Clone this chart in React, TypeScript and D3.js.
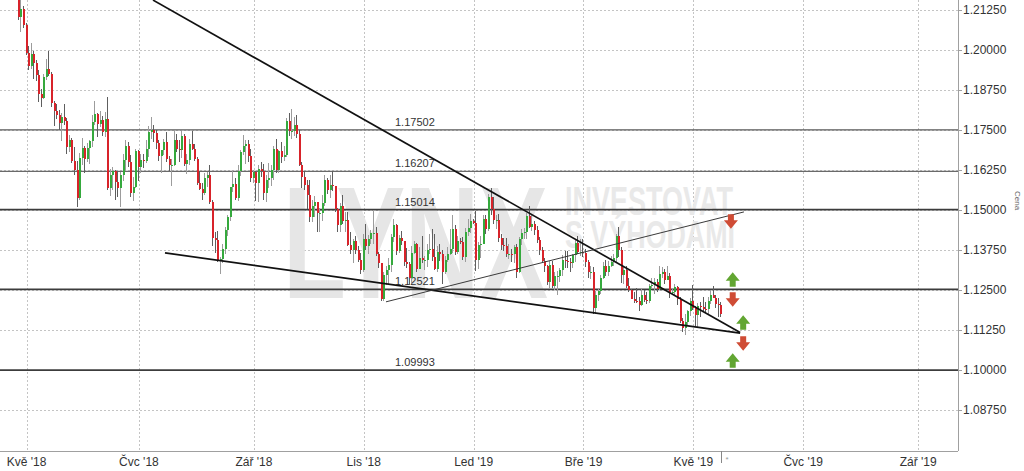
import React, { useEffect } from "react";
import * as d3 from "d3";

// ---------- data (EUR/USD daily, 26 Apr 2018 – 16 May 2019) ----------
const seedOpen = 1.2163;
const closes = [
  // Apr 18
  1.2103, 1.2129, 1.2079,
  // May 18
  1.1992, 1.1951, 1.1989, 1.1960, 1.1923, 1.1864, 1.1851, 1.1917, 1.1941, 1.1925, 1.1835, 1.1810, 1.1796, 1.1772, 1.1791, 1.1779, 1.1696, 1.1720, 1.1652, 1.1624, 1.1537, 1.1664, 1.1693,
  // Jun 18
  1.1658, 1.1694, 1.1717, 1.1776, 1.1799, 1.1770, 1.1781, 1.1745, 1.1784, 1.1569, 1.1609, 1.1623, 1.1587, 1.1570, 1.1608, 1.1655, 1.1701, 1.1649, 1.1554, 1.1571, 1.1684,
  // Jul 18
  1.1633, 1.1656, 1.1654, 1.1690, 1.1743, 1.1749, 1.1742, 1.1709, 1.1670, 1.1686, 1.1711, 1.1660, 1.1640, 1.1642, 1.1719, 1.1692, 1.1686, 1.1730, 1.1643, 1.1657, 1.1706, 1.1691,
  // Aug 18
  1.1660, 1.1585, 1.1566, 1.1553, 1.1600, 1.1610, 1.1525, 1.1411, 1.1406, 1.1344, 1.1346, 1.1378, 1.1438, 1.1479, 1.1571, 1.1582, 1.1536, 1.1622, 1.1680, 1.1701, 1.1706, 1.1670, 1.1601,
  // Sep 18
  1.1620, 1.1583, 1.1628, 1.1622, 1.1553, 1.1595, 1.1601, 1.1625, 1.1690, 1.1624, 1.1683, 1.1667, 1.1672, 1.1778, 1.1747, 1.1747, 1.1765, 1.1739, 1.1641, 1.1604,
  // Oct 18
  1.1578, 1.1547, 1.1478, 1.1513, 1.1524, 1.1491, 1.1491, 1.1522, 1.1593, 1.1561, 1.1579, 1.1576, 1.1502, 1.1452, 1.1512, 1.1465, 1.1470, 1.1391, 1.1375, 1.1402, 1.1374, 1.1345, 1.1311,
  // Nov 18
  1.1408, 1.1388, 1.1408, 1.1428, 1.1428, 1.1364, 1.1334, 1.1222, 1.1296, 1.1311, 1.1328, 1.1415, 1.1454, 1.1371, 1.1412, 1.1404, 1.1337, 1.1330, 1.1288, 1.1366, 1.1394, 1.1317,
  // Dec 18
  1.1351, 1.1343, 1.1343, 1.1375, 1.1379, 1.1353, 1.1317, 1.1370, 1.1361, 1.1305, 1.1345, 1.1362, 1.1379, 1.1440, 1.1370, 1.1404, 1.1400, 1.1354, 1.1432, 1.1443, 1.1466,
  // Jan 19
  1.1460, 1.1344, 1.1391, 1.1394, 1.1473, 1.1441, 1.1540, 1.1502, 1.1469, 1.1470, 1.1413, 1.1392, 1.1389, 1.1364, 1.1364, 1.1362, 1.1384, 1.1305, 1.1409, 1.1428, 1.1431, 1.1480, 1.1448,
  // Feb 19
  1.1456, 1.1437, 1.1405, 1.1374, 1.1341, 1.1326, 1.1275, 1.1327, 1.1263, 1.1295, 1.1295, 1.1311, 1.1343, 1.1340, 1.1337, 1.1334, 1.1358, 1.1397, 1.1370, 1.1370,
  // Mar 19
  1.1365, 1.1338, 1.1307, 1.1307, 1.1195, 1.1234, 1.1246, 1.1287, 1.1326, 1.1305, 1.1325, 1.1337, 1.1351, 1.1418, 1.1375, 1.1298, 1.1313, 1.1264, 1.1249, 1.1222, 1.1217,
  // Apr 19
  1.1215, 1.1203, 1.1234, 1.1220, 1.1217, 1.1262, 1.1265, 1.1276, 1.1254, 1.1300, 1.1305, 1.1282, 1.1295, 1.1245, 1.1245, 1.1258, 1.1223, 1.1153, 1.1131, 1.1150, 1.1185, 1.1215,
  // May 19
  1.1195, 1.1171, 1.1200, 1.1198, 1.1192, 1.1190, 1.1216, 1.1235, 1.1225, 1.1205, 1.1202, 1.1174,
];
const highs = [
  1.2188, 1.2155, 1.2136,
  1.2085, 1.2011, 1.2022, 1.1996, 1.1970, 1.1939, 1.1878, 1.1925, 1.1973, 1.1996, 1.1931, 1.1842, 1.1830, 1.1814, 1.1803, 1.1830, 1.1789, 1.1733, 1.1725, 1.1697, 1.1654, 1.1679, 1.1724,
  1.1701, 1.1710, 1.1719, 1.1796, 1.1840, 1.1803, 1.1809, 1.1795, 1.1805, 1.1852, 1.1629, 1.1634, 1.1626, 1.1623, 1.1618, 1.1675, 1.1719, 1.1712, 1.1671, 1.1604, 1.1692,
  1.1686, 1.1674, 1.1674, 1.1720, 1.1764, 1.1791, 1.1765, 1.1750, 1.1720, 1.1687, 1.1722, 1.1744, 1.1669, 1.1658, 1.1750, 1.1737, 1.1719, 1.1746, 1.1739, 1.1674, 1.1721, 1.1748,
  1.1706, 1.1667, 1.1621, 1.1584, 1.1617, 1.1620, 1.1642, 1.1531, 1.1431, 1.1433, 1.1354, 1.1395, 1.1446, 1.1485, 1.1573, 1.1623, 1.1601, 1.1641, 1.1688, 1.1733, 1.1718, 1.1720, 1.1690,
  1.1624, 1.1621, 1.1642, 1.1649, 1.1643, 1.1610, 1.1646, 1.1640, 1.1700, 1.1721, 1.1688, 1.1711, 1.1700, 1.1787, 1.1803, 1.1815, 1.1790, 1.1796, 1.1749, 1.1649,
  1.1621, 1.1595, 1.1595, 1.1530, 1.1543, 1.1516, 1.1505, 1.1548, 1.1608, 1.1600, 1.1609, 1.1621, 1.1570, 1.1507, 1.1522, 1.1548, 1.1494, 1.1495, 1.1432, 1.1408, 1.1419, 1.1388, 1.1366,
  1.1426, 1.1456, 1.1422, 1.1439, 1.1500, 1.1447, 1.1368, 1.1334, 1.1306, 1.1326, 1.1351, 1.1425, 1.1472, 1.1457, 1.1421, 1.1434, 1.1402, 1.1382, 1.1338, 1.1387, 1.1402, 1.1397,
  1.1384, 1.1420, 1.1357, 1.1394, 1.1424, 1.1442, 1.1426, 1.1387, 1.1394, 1.1375, 1.1357, 1.1384, 1.1440, 1.1485, 1.1453, 1.1420, 1.1411, 1.1416, 1.1445, 1.1473, 1.1486,
  1.1473, 1.1497, 1.1399, 1.1419, 1.1483, 1.1484, 1.1550, 1.1570, 1.1542, 1.1485, 1.1486, 1.1425, 1.1414, 1.1412, 1.1395, 1.1378, 1.1390, 1.1393, 1.1416, 1.1442, 1.1445, 1.1491, 1.1514,
  1.1489, 1.1466, 1.1449, 1.1416, 1.1384, 1.1349, 1.1329, 1.1341, 1.1340, 1.1306, 1.1310, 1.1320, 1.1358, 1.1371, 1.1372, 1.1351, 1.1363, 1.1406, 1.1419, 1.1408,
  1.1408, 1.1379, 1.1344, 1.1324, 1.1323, 1.1246, 1.1257, 1.1297, 1.1339, 1.1345, 1.1340, 1.1357, 1.1363, 1.1425, 1.1448, 1.1383, 1.1325, 1.1326, 1.1287, 1.1254, 1.1243,
  1.1255, 1.1228, 1.1255, 1.1249, 1.1245, 1.1270, 1.1288, 1.1287, 1.1284, 1.1324, 1.1323, 1.1316, 1.1324, 1.1303, 1.1252, 1.1268, 1.1263, 1.1229, 1.1162, 1.1174, 1.1189, 1.1225,
  1.1265, 1.1201, 1.1208, 1.1214, 1.1227, 1.1211, 1.1227, 1.1251, 1.1264, 1.1233, 1.1225, 1.1214,
];
const lows = [
  1.2095, 1.2055, 1.2070,
  1.1984, 1.1938, 1.1940, 1.1910, 1.1903, 1.1838, 1.1823, 1.1846, 1.1907, 1.1920, 1.1822, 1.1763, 1.1783, 1.1750, 1.1717, 1.1767, 1.1676, 1.1681, 1.1646, 1.1610, 1.1510, 1.1530, 1.1641,
  1.1617, 1.1651, 1.1644, 1.1697, 1.1765, 1.1728, 1.1760, 1.1730, 1.1727, 1.1563, 1.1543, 1.1564, 1.1530, 1.1541, 1.1508, 1.1592, 1.1621, 1.1633, 1.1540, 1.1527, 1.1569,
  1.1591, 1.1615, 1.1630, 1.1646, 1.1665, 1.1722, 1.1711, 1.1690, 1.1652, 1.1615, 1.1673, 1.1649, 1.1621, 1.1575, 1.1638, 1.1680, 1.1651, 1.1663, 1.1638, 1.1613, 1.1640, 1.1686,
  1.1652, 1.1578, 1.1562, 1.1530, 1.1547, 1.1571, 1.1520, 1.1387, 1.1365, 1.1336, 1.1301, 1.1334, 1.1362, 1.1419, 1.1465, 1.1557, 1.1530, 1.1527, 1.1607, 1.1671, 1.1643, 1.1649, 1.1587,
  1.1584, 1.1529, 1.1526, 1.1602, 1.1530, 1.1526, 1.1569, 1.1576, 1.1594, 1.1617, 1.1617, 1.1648, 1.1652, 1.1667, 1.1730, 1.1721, 1.1732, 1.1724, 1.1639, 1.1570,
  1.1564, 1.1504, 1.1464, 1.1464, 1.1477, 1.1431, 1.1432, 1.1467, 1.1511, 1.1550, 1.1537, 1.1558, 1.1493, 1.1432, 1.1432, 1.1456, 1.1432, 1.1386, 1.1363, 1.1335, 1.1364, 1.1339, 1.1301,
  1.1305, 1.1375, 1.1364, 1.1393, 1.1394, 1.1356, 1.1318, 1.1216, 1.1216, 1.1265, 1.1266, 1.1307, 1.1399, 1.1359, 1.1365, 1.1390, 1.1324, 1.1318, 1.1267, 1.1273, 1.1361, 1.1306,
  1.1322, 1.1334, 1.1312, 1.1321, 1.1363, 1.1340, 1.1313, 1.1307, 1.1341, 1.1269, 1.1300, 1.1337, 1.1358, 1.1367, 1.1360, 1.1364, 1.1393, 1.1345, 1.1338, 1.1420, 1.1427,
  1.1455, 1.1309, 1.1315, 1.1350, 1.1397, 1.1424, 1.1435, 1.1484, 1.1457, 1.1440, 1.1399, 1.1374, 1.1371, 1.1353, 1.1346, 1.1336, 1.1334, 1.1289, 1.1303, 1.1390, 1.1410, 1.1409, 1.1443,
  1.1434, 1.1422, 1.1396, 1.1359, 1.1338, 1.1306, 1.1266, 1.1257, 1.1255, 1.1249, 1.1234, 1.1276, 1.1294, 1.1320, 1.1320, 1.1307, 1.1318, 1.1337, 1.1361, 1.1357,
  1.1354, 1.1322, 1.1287, 1.1283, 1.1176, 1.1176, 1.1215, 1.1238, 1.1285, 1.1293, 1.1294, 1.1321, 1.1325, 1.1339, 1.1353, 1.1273, 1.1270, 1.1255, 1.1245, 1.1221, 1.1210,
  1.1209, 1.1184, 1.1199, 1.1211, 1.1207, 1.1210, 1.1255, 1.1236, 1.1245, 1.1251, 1.1289, 1.1268, 1.1282, 1.1226, 1.1235, 1.1235, 1.1204, 1.1148, 1.1118, 1.1110, 1.1141, 1.1168,
  1.1189, 1.1136, 1.1135, 1.1167, 1.1182, 1.1177, 1.1173, 1.1205, 1.1224, 1.1193, 1.1165, 1.1167,
];

const levels = [1.17502, 1.16207, 1.15014, 1.12521, 1.09993];
const yTicks = [1.0875, 1.1, 1.1125, 1.125, 1.1375, 1.15, 1.1625, 1.175, 1.1875, 1.2, 1.2125];
const monthNames = ["Led", "Úno", "Bře", "Dub", "Kvě", "Čvn", "Čvc", "Srp", "Zář", "Říj", "Lis", "Pro"];
const tickMonths = ["2018-05", "2018-07", "2018-09", "2018-11", "2019-01", "2019-03", "2019-05", "2019-07", "2019-09"];

// trend lines: [trading-day index from 1 May 2018, price]
const trendFrom = [[49.5, 1.2156], [54.2, 1.1366], [140.7, 1.1213]];
const trendTo = [[279.3, 1.1117], [279.3, 1.1115], [280.8, 1.1494]];

// signal arrows: index, price, direction
const arrowIdx = [275.7, 276.4, 276.4, 280.5, 280.5, 276.4];
const arrowPrice = [1.14641, 1.12828, 1.12203, 1.11484, 1.10828, 1.10297];
const arrowDir = ["down", "up", "down", "up", "down", "up"];

const FONT = "'Liberation Sans', Arial, sans-serif";

export default function App() {
  useEffect(() => {
    document.body.style.margin = "0";
  }, []);

  const weekdays = d3
    .timeDay.range(new Date(2018, 3, 26), new Date(2019, 9, 1))
    .filter((d) => d.getDay() !== 0 && d.getDay() !== 6);
  const base = weekdays.findIndex((d) => +d === +new Date(2018, 4, 1));

  const plotRight = 958;
  const plotBottom = 451;
  const x = d3.scaleLinear().domain([0, 100]).range([26.5, 26.5 + 255.5]);
  const y = d3.scaleLinear().domain([1.0875, 1.2125]).range([410, 10]);

  const candles = closes.map((c, i) => {
    const o = i === 0 ? seedOpen : closes[i - 1];
    return {
      idx: i - base,
      o,
      c,
      h: Math.max(highs[i], o, c),
      l: Math.min(lows[i], o, c),
    };
  });

  const monthTicks = tickMonths.map((s) => {
    const [yy, mm] = s.split("-").map(Number);
    const pos = weekdays.findIndex((d) => d.getFullYear() === yy && d.getMonth() === mm - 1);
    return { idx: pos - base, label: `${monthNames[mm - 1]} '${String(yy).slice(2)}` };
  });

  const fmt = d3.format(".5f");
  const levelStroke = ["#5a5a5a", "#6a6a6a", "#3c3c3c", "#3c3c3c", "#3c3c3c"];
  const levelWidth = [1.2, 1.2, 1.8, 1.8, 1.8];

  const arrowPath = (cx: number, cy: number, dir: string) => {
    const hw = 7, head = 8.5, sw = 3, stem = 6;
    const top = cy - (head + stem) / 2;
    if (dir === "up") {
      return `M${cx},${top} L${cx + hw},${top + head} L${cx + sw},${top + head} L${cx + sw},${top + head + stem} L${cx - sw},${top + head + stem} L${cx - sw},${top + head} L${cx - hw},${top + head} Z`;
    }
    const bot = top + head + stem;
    return `M${cx},${bot} L${cx + hw},${bot - head} L${cx + sw},${bot - head} L${cx + sw},${top} L${cx - sw},${top} L${cx - sw},${bot - head} L${cx - hw},${bot - head} Z`;
  };

  const lastIdx = candles[candles.length - 1].idx;

  return (
    <svg width={1024} height={471} style={{ display: "block", background: "#fff" }} fontFamily={FONT}>
      <defs>
        <clipPath id="plot">
          <rect x={0} y={0} width={plotRight} height={plotBottom} />
        </clipPath>
      </defs>

      {/* grid */}
      <g stroke="#c4c4c4" strokeWidth={1} strokeDasharray="2,2">
        {yTicks.map((t) => (
          <line key={t} x1={0} x2={plotRight} y1={Math.round(y(t)) + 0.5} y2={Math.round(y(t)) + 0.5} />
        ))}
        {monthTicks.map((m) => (
          <line key={m.label} x1={Math.round(x(m.idx)) + 0.5} x2={Math.round(x(m.idx)) + 0.5} y1={0} y2={plotBottom} />
        ))}
      </g>

      {/* watermark */}
      <g fill="#e6e6e6" fontWeight="bold">
        <text x={283} y={298} fontSize={160} textLength={265} lengthAdjust="spacingAndGlyphs">LYNX</text>
        <text x={565} y={215} fontSize={41} textLength={168} lengthAdjust="spacingAndGlyphs" fill="#e9e9e9">INVESTOVAT</text>
        <text x={565} y={248} fontSize={39} textLength={170} lengthAdjust="spacingAndGlyphs" fill="#e9e9e9">S VÝHODAMI</text>
      </g>

      {/* level lines */}
      {levels.map((lv, i) => (
        <g key={lv}>
          <line x1={0} x2={plotRight} y1={y(lv)} y2={y(lv)} stroke={levelStroke[i]} strokeWidth={levelWidth[i]} />
          <text x={395} y={y(lv) - 4} fontSize={11} fill="#333">{fmt(lv)}</text>
        </g>
      ))}

      {/* candles */}
      <g clipPath="url(#plot)" shapeRendering="crispEdges">
        {candles.map((d, i) => {
          const cx = Math.round(x(d.idx));
          const up = d.c >= d.o;
          const top = y(Math.max(d.o, d.c));
          const bot = y(Math.min(d.o, d.c));
          return (
            <g key={i}>
              <line x1={cx - 0.5} x2={cx - 0.5} y1={y(d.h)} y2={y(d.l)} stroke={up ? "#9c9c9c" : "#5e5e5e"} strokeWidth={1} />
              <rect x={cx - 1} y={top} width={2} height={Math.max(1, bot - top)} fill={up ? "#35a93d" : "#d8232a"} />
            </g>
          );
        })}
      </g>

      {/* trend lines */}
      <g clipPath="url(#plot)">
        {trendFrom.map((f, i) => (
          <line
            key={i}
            x1={x(f[0])}
            y1={y(f[1])}
            x2={x(trendTo[i][0])}
            y2={y(trendTo[i][1])}
            stroke={i === 2 ? "#3a3a3a" : "#111"}
            strokeWidth={i === 2 ? 1 : 1.7}
          />
        ))}
      </g>

      {/* arrows */}
      {arrowIdx.map((ai, i) => (
        <path
          key={i}
          d={arrowPath(x(ai), y(arrowPrice[i]), arrowDir[i])}
          fill={arrowDir[i] === "up" ? "#62a632" : "#cf4c35"}
        />
      ))}

      {/* axes */}
      <line x1={plotRight + 0.5} x2={plotRight + 0.5} y1={0} y2={plotBottom} stroke="#a0a0a0" />
      <line x1={0} x2={plotRight} y1={plotBottom + 0.5} y2={plotBottom + 0.5} stroke="#a0a0a0" />

      {yTicks.map((t) => (
        <g key={t}>
          <line x1={plotRight} x2={plotRight + 4} y1={Math.round(y(t)) + 0.5} y2={Math.round(y(t)) + 0.5} stroke="#a0a0a0" />
          <text x={963} y={y(t)} dy="0.35em" fontSize={12} fill="#333">{fmt(t)}</text>
        </g>
      ))}

      {monthTicks.map((m) => (
        <text key={m.label} x={x(m.idx)} y={466} textAnchor="middle" fontSize={12} fill="#333">{m.label}</text>
      ))}

      {/* last bar marker */}
      <line x1={Math.round(x(lastIdx)) + 0.5} x2={Math.round(x(lastIdx)) + 0.5} y1={plotBottom} y2={plotBottom + 12} stroke="#888" />
      <text x={x(lastIdx) + 4} y={462} fontSize={8} fill="#999">*</text>

      <text transform="translate(1015,191) rotate(90)" fontSize={8} fill="#666">Cena</text>
    </svg>
  );
}
